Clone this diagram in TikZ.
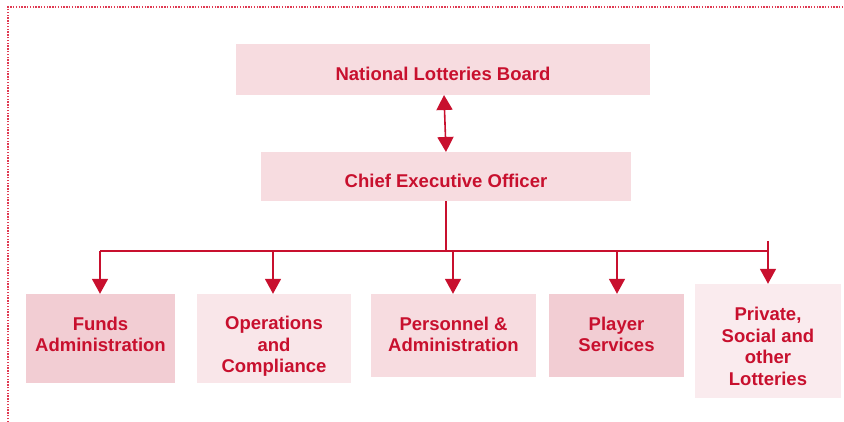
\documentclass[tikz,border=0pt]{standalone}
\usepackage{fontspec}
\setmainfont{Liberation Sans}
\usetikzlibrary{arrows.meta}
\definecolor{crimson}{HTML}{C8102E}
\definecolor{fillA}{HTML}{F7DCE0}
\definecolor{fillB}{HTML}{F2CDD3}
\definecolor{fillC}{HTML}{F9E6E9}
\definecolor{fillD}{HTML}{FAEBEE}
\definecolor{frame}{HTML}{E03A52}
\tikzset{
  box/.style={inner sep=0pt, draw=none},
  caption/.style={inner sep=0pt, align=center, text=crimson,
    font=\fontsize{18.5}{21.5}\selectfont\bfseries},
  link/.style={draw=crimson, line width=1.6pt},
  tip/.style={-{Triangle[width=16pt,length=15pt]}},
  both/.style={{Triangle[width=16pt,length=15pt]}-{Triangle[width=16pt,length=15pt]}},
}
\begin{document}
\begin{tikzpicture}[x=1pt,y=-1pt]
\useasboundingbox (0,0) rectangle (844,422);
% dotted frame along the top and left
\draw[frame, line width=1.3pt, dash pattern=on 1.4pt off 1.4pt] (8,422) -- (8,7) -- (844,7);

% top levels
\node[box, fill=fillA, minimum width=414pt, minimum height=51pt] (nlb) at (443,69.5) {};
\node[box, fill=fillA, minimum width=370pt, minimum height=49pt] (ceo) at (446,176.5) {};

% divisions
\node[box, fill=fillB, minimum width=149pt, minimum height=89pt] (funds) at (100.5,338.5) {};
\node[box, fill=fillC, minimum width=154pt, minimum height=89pt] (ops) at (274,338.5) {};
\node[box, fill=fillA, minimum width=165pt, minimum height=83pt] (pers) at (453.5,335.5) {};
\node[box, fill=fillB, minimum width=135pt, minimum height=83pt] (player) at (616.5,335.5) {};
\node[box, fill=fillD, minimum width=146pt, minimum height=114pt] (priv) at (768,341) {};

% box captions
\node[caption, yshift=-4.5pt] (nlbT) at (nlb.center) {National Lotteries Board};
\node[caption, yshift=-4.5pt] (ceoT) at (ceo.center) {Chief Executive Officer};
\node[caption, yshift=4pt] (fundsT) at (funds.center) {Funds\\Administration};
\node[caption, yshift=-8pt] (opsT) at (ops.center) {Operations\\and\\Compliance};
\node[caption, yshift=1pt] (persT) at (pers.center) {Personnel \&\\Administration};
\node[caption, yshift=1pt] (playerT) at (player.center) {Player\\Services};
\node[caption, yshift=-5.5pt] (privT) at (priv.center) {Private,\\Social and\\other\\Lotteries};

% connectors
\coordinate (bus) at (446,251);
\coordinate (busL) at (100,251);
\coordinate (busR) at (768,251);
\coordinate (stub) at (768,241);
\coordinate (busO) at (273,251);
\coordinate (busP) at (453,251);
\coordinate (busS) at (617,251);
\draw[link, both] (444,95) -- (446,152);
\draw[link] (ceo.south) -- (bus);
\draw[link] (busL) -- (busR);
\draw[link, tip] (busL) -- (busL |- funds.north);
\draw[link, tip] (busO) -- (busO |- ops.north);
\draw[link, tip] (busP) -- (busP |- pers.north);
\draw[link, tip] (busS) -- (busS |- player.north);
\draw[link, tip] (stub) -- (priv.north);
\end{tikzpicture}
\end{document}
